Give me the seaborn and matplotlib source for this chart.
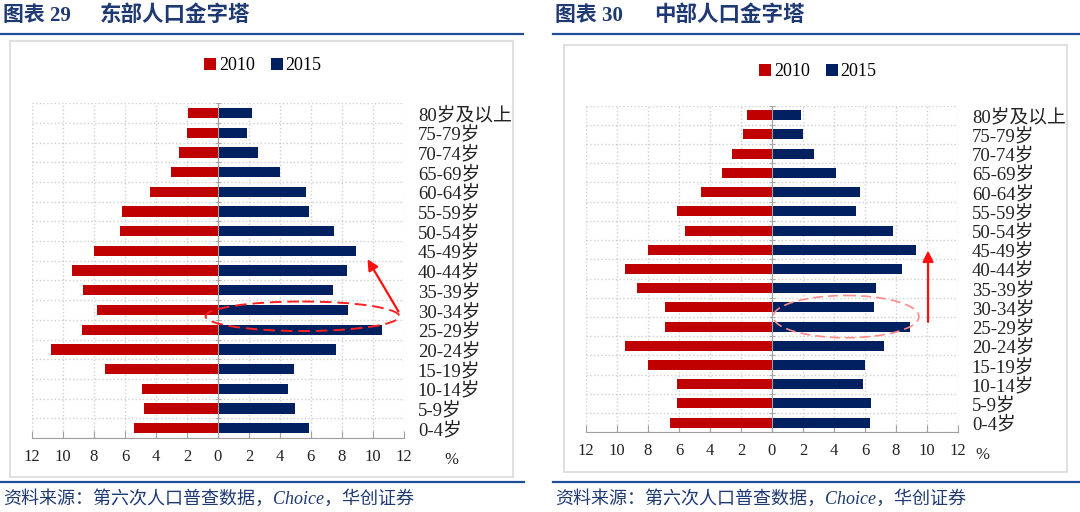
import numpy as np
import pandas as pd
import matplotlib
matplotlib.use('Agg')
import matplotlib.pyplot as plt
from matplotlib.patches import Ellipse, Patch, Rectangle
from matplotlib.lines import Line2D
import seaborn as sns

plt.rcParams['font.family'] = ['Liberation Serif', 'Noto Sans CJK SC']
plt.rcParams['axes.unicode_minus'] = False

# data (percent of population)
ages = ['80岁及以上', '75-79岁', '70-74岁', '65-69岁', '60-64岁', '55-59岁',
        '50-54岁', '45-49岁', '40-44岁', '35-39岁', '30-34岁', '25-29岁',
        '20-24岁', '15-19岁', '10-14岁', '5-9岁', '0-4岁']
years = ['2010', '2015']
east_2010 = [1.9, 2.0, 2.5, 3.0, 4.4, 6.2, 6.3, 8.0, 9.4, 8.7, 7.8, 8.8, 10.8, 7.3, 4.9, 4.8, 5.4]
east_2015 = [2.2, 1.9, 2.6, 4.0, 5.7, 5.9, 7.5, 8.9, 8.3, 7.4, 8.4, 10.6, 7.6, 4.9, 4.5, 5.0, 5.9]
central_2010 = [1.6, 1.9, 2.6, 3.2, 4.6, 6.1, 5.6, 8.0, 9.5, 8.7, 6.9, 6.9, 9.5, 8.0, 6.1, 6.1, 6.6]
central_2015 = [1.9, 2.0, 2.7, 4.1, 5.7, 5.4, 7.8, 9.3, 8.4, 6.7, 6.6, 8.9, 7.2, 6.0, 5.9, 6.4, 6.3]
x_ticks = list(range(-12, 13, 2))

colors = {'2010': '#C00000', '2015': '#002060'}
title_blue = '#1F3A73'
line_blue = '#1F4E96'
grid_grey = '#D0D0D0'
axis_grey = '#A0A0A0'
W, H = 1080, 512


def pyramid(ax, v2010, v2015):
    df = pd.DataFrame({
        'age': ages * 2,
        'year': ['2010'] * len(ages) + ['2015'] * len(ages),
        'value': [-v for v in v2010] + list(v2015),
    })
    sns.barplot(data=df, x='value', y='age', hue='year', order=ages,
                hue_order=years, palette=colors, dodge=False, width=0.52,
                saturation=1, errorbar=None, legend=False, ax=ax, zorder=3)
    ax.set_xlim(-12, 12)
    ax.set_ylim(len(ages) - 0.5, -0.5)
    ax.set_xlabel('')
    ax.set_ylabel('')
    ax.set_xticks(x_ticks)
    ax.set_xticklabels([str(abs(t)) for t in x_ticks], fontsize=12)
    ax.set_yticks(np.arange(-0.5, len(ages), 1), minor=True)
    ax.tick_params(axis='y', which='major', left=False, right=True,
                   labelleft=False, labelright=True, length=0, pad=10,
                   labelsize=13.5, labelcolor='#222222')
    ax.tick_params(axis='y', which='minor', left=True, right=False,
                   direction='inout', length=5, color=axis_grey)
    ax.tick_params(axis='x', direction='in', length=5, color=axis_grey,
                   pad=8, labelcolor='#222222')
    for s in ['top', 'right']:
        ax.spines[s].set_visible(False)
    ax.spines['left'].set_position(('data', 0))
    ax.spines['left'].set_color(axis_grey)
    ax.spines['left'].set_zorder(4)
    ax.spines['bottom'].set_color(axis_grey)
    ax.grid(which='minor', axis='y', linestyle=':', color=grid_grey, lw=1)
    ax.grid(which='major', axis='x', linestyle=':', color=grid_grey, lw=1)
    ax.set_axisbelow(True)


def fx(px):
    return px / W


def fy(py):
    return 1 - py / H


fig = plt.figure(figsize=(10.8, 5.12), dpi=100)
ax1 = fig.add_axes([0.0296, 0.1445, 0.3444, 0.654])
ax2 = fig.add_axes([0.5426, 0.1557, 0.3444, 0.638])
pyramid(ax1, east_2010, east_2015)
pyramid(ax2, central_2010, central_2015)

# annotations
ax1.add_patch(Ellipse((5.45, 10.32), 12.5, 1.5, fill=False, ec='#FF2020',
                      ls=(0, (6, 3)), lw=1.4, zorder=5, clip_on=False))
ax1.annotate('', xy=(9.56, 7.3), xytext=(11.74, 10.2),
             arrowprops=dict(arrowstyle='-|>', color='#FF1010', lw=1.6,
                             mutation_scale=16), annotation_clip=False)
ax2.add_patch(Ellipse((4.78, 10.48), 9.4, 2.2, fill=False, ec='#FF8A8A',
                      ls=(0, (6, 3)), lw=1.2, zorder=5, clip_on=False))
ax2.annotate('', xy=(10.07, 6.9), xytext=(10.07, 10.9),
             arrowprops=dict(arrowstyle='-|>', color='#FF1010', lw=1.6,
                             mutation_scale=16), annotation_clip=False)

# legends
handles = [Patch(facecolor=colors[y], edgecolor='none') for y in years]
for pos in [(fx(263), fy(66)), (fx(818), fy(72))]:
    fig.legend(handles, years, loc='center', bbox_to_anchor=pos, ncol=2,
               frameon=False, fontsize=13, handlelength=0.65,
               handleheight=0.65, handletextpad=0.15, columnspacing=0.9)

# percent labels
fig.text(fx(451), fy(460), '%', fontsize=12, ha='center', va='center', color='#222222')
fig.text(fx(982), fy(455), '%', fontsize=12, ha='center', va='center', color='#222222')

# panel frames, titles, rules and sources
for x0, y0, x1, y1 in [(10, 41, 513, 477), (564, 45, 1067, 472)]:
    fig.patches.append(Rectangle((fx(x0), fy(y1)), (x1 - x0) / W, (y1 - y0) / H,
                                 transform=fig.transFigure, fill=False,
                                 ec='#DADADA', lw=1.2))
for x0, x1, y in [(0, 523, 34), (553, 1080, 34), (0, 524, 482), (553, 1080, 482)]:
    fig.lines.append(Line2D([fx(x0), fx(x1)], [fy(y)] * 2,
                            transform=fig.transFigure, color=line_blue, lw=1.6))

for x0, x1, num, name in [(3, 100, '图表 29', '东部人口金字塔'),
                          (555, 654, '图表 30', '中部人口金字塔')]:
    fig.text(fx(x0), fy(16), num, fontsize=15, fontweight='bold',
             color=title_blue, ha='left', va='center')
    fig.text(fx(x1), fy(16), name, fontsize=15.5, fontweight='bold',
             color=title_blue, ha='left', va='center')

src = '资料来源：第六次人口普查数据，Choice，华创证券'
for x0 in [3, 555]:
    fig.text(fx(x0), fy(499), src, fontsize=13, style='italic',
             color=title_blue, ha='left', va='center')

fig.savefig('out.png', dpi=100)
